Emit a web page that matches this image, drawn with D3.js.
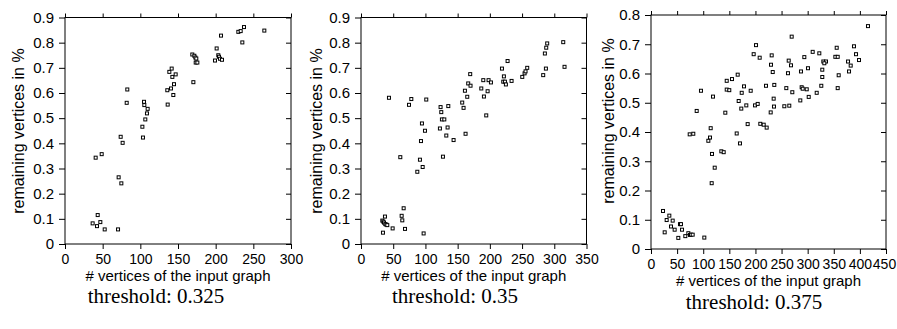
<!DOCTYPE html>
<html>
<head>
<meta charset="utf-8">
<script src="https://cdn.jsdelivr.net/npm/d3@7"></script>
<style>
  html, body { margin: 0; padding: 0; background: #fff; }
  svg { display: block; }
  .tick text { font-family: "Liberation Sans", Arial, sans-serif; fill: #000; }
  .xax .tick text { font-size: 14px; }
  .yax .tick text { font-size: 15px; }
</style>
</head>
<body>
<svg id="chart" width="897" height="329"></svg>
<script>
// threshold 0.325: [# vertices, remaining fraction]
const pts325 = [
  [36.7,0.082],[43.4,0.115],[42.5,0.071],[46.9,0.087],[52.7,0.058],[70.4,0.058],
  [40.7,0.343],[48.7,0.357],[71.2,0.265],[74.8,0.241],[73.9,0.426],[76.5,0.402],
  [81.9,0.561],[82.7,0.614],[102.7,0.466],[103.5,0.423],[104.9,0.565],[105.3,0.552],
  [106.6,0.495],[108.8,0.519],[109.7,0.537],[135.8,0.611],[136.3,0.554],[138.5,0.684],
  [140.7,0.618],[141.6,0.697],[142.5,0.664],[143.8,0.592],[144.7,0.635],[146.9,0.674],
  [169.0,0.753],[170.4,0.643],[171.7,0.748],[173.0,0.741],[174.3,0.737],[173.5,0.721],
  [175.7,0.721],[199.1,0.729],[201.3,0.777],[203.5,0.750],[204.4,0.744],[205.8,0.736],
  [208.4,0.732],[207.1,0.828],[230.1,0.843],[233.2,0.846],[235.4,0.801],[237.6,0.862],
  [264.6,0.848]
];

// threshold 0.35
const pts35 = [
  [34.1,0.045],[33.1,0.093],[34.6,0.089],[35.7,0.085],[37.2,0.109],[37.7,0.079],
  [39.3,0.077],[40.8,0.075],[49.1,0.062],[63.1,0.112],[64.1,0.094],[66.2,0.142],
  [68.3,0.060],[97.2,0.042],[43.4,0.581],[61.0,0.345],[74.5,0.553],[78.1,0.576],
  [101.3,0.574],[87.4,0.287],[91.5,0.335],[95.7,0.306],[93.1,0.409],[94.6,0.479],
  [99.3,0.450],[122.5,0.459],[123.5,0.544],[124.6,0.524],[125.6,0.495],[129.3,0.495],
  [127.2,0.347],[132.4,0.431],[134.4,0.463],[135.5,0.548],[143.7,0.413],[157.1,0.562],
  [159.2,0.541],[161.3,0.609],[164.9,0.585],[166.4,0.638],[169.5,0.675],[170.0,0.629],
  [162.3,0.438],[186.7,0.618],[189.8,0.651],[190.8,0.586],[194.4,0.511],[196.5,0.607],
  [198.0,0.651],[201.7,0.642],[218.8,0.697],[220.8,0.645],[221.8,0.666],[223.4,0.645],
  [224.9,0.634],[227.5,0.727],[233.7,0.648],[250.3,0.664],[253.9,0.678],[255.4,0.686],
  [258.0,0.700],[282.8,0.671],[285.4,0.757],[287.0,0.697],[287.5,0.780],[289.0,0.797],
  [313.9,0.802],[315.9,0.704]
];

// threshold 0.375
const pts375 = [
  [23.0,0.130],[26.2,0.057],[30.0,0.099],[35.1,0.114],[38.3,0.077],[41.5,0.097],
  [45.3,0.066],[52.3,0.038],[55.5,0.085],[57.4,0.085],[59.4,0.066],[65.7,0.044],
  [71.5,0.054],[74.7,0.048],[76.6,0.049],[79.8,0.049],[102.1,0.039],
  [74.1,0.392],[81.0,0.394],[114.3,0.413],[113.0,0.381],[109.8,0.370],[116.8,0.325],
  [122.0,0.278],[116.2,0.225],[134.7,0.334],[139.2,0.331],[164.1,0.395],[170.4,0.361],
  [185.1,0.427],[209.3,0.428],[215.8,0.425],[221.5,0.415],
  [415.5,0.762],[269.4,0.726],[201.1,0.697],[196.6,0.666],[208.1,0.654],[231.1,0.662],
  [229.8,0.630],[233.1,0.605],[263.7,0.644],[268.1,0.628],[262.3,0.601],[293.6,0.656],
  [309.6,0.674],[322.3,0.669],[300.6,0.618],[287.2,0.607],[330.0,0.641],[335.1,0.641],
  [331.9,0.635],[328.0,0.613],[328.0,0.588],[326.1,0.558],[353.0,0.657],[357.5,0.657],
  [355.6,0.688],[359.4,0.594],[357.5,0.550],[377.3,0.641],[382.4,0.627],[379.2,0.607],
  [388.7,0.693],[392.6,0.666],[398.3,0.646],[95.7,0.541],[118.7,0.521],[87.5,0.472],
  [145.0,0.575],[155.1,0.581],[166.0,0.596],[145.0,0.545],[149.9,0.543],[178.1,0.556],
  [173.7,0.534],[190.9,0.541],[167.9,0.506],[182.5,0.491],[172.9,0.480],[142.3,0.466],
  [199.2,0.491],[204.3,0.496],[220.2,0.558],[236.1,0.561],[234.9,0.514],[235.5,0.487],
  [229.2,0.467],[259.1,0.550],[270.6,0.536],[255.3,0.488],[264.8,0.490],[288.5,0.553],
  [290.5,0.548],[298.2,0.546],[317.3,0.534],[302.0,0.520],[285.9,0.508]
];

const titles = ['threshold: 0.325', 'threshold: 0.35', 'threshold: 0.375'];
const xMaxes = [300, 350, 450];
const yMaxes = [0.9, 0.9, 0.8];
const xTitle = '# vertices of the input graph';
const yTitle = 'remaining vertices in %';

const svg = d3.select('#chart');

const panels = [
  { data: pts325, box: { l: 65, r: 291, t: 17.5, b: 244 }, yLab: [18.5, 131], cap: [156, 303], xt: 281 },
  { data: pts35,  box: { l: 361, r: 586.5, t: 17.5, b: 244 }, yLab: [316, 131], cap: [455, 303], xt: 281 },
  { data: pts375, box: { l: 651, r: 886, t: 15, b: 249 }, yLab: [608, 121], cap: [754, 309], xt: 286 }
];

const fmtY = d => d === 0 ? '0' : d3.format('.1f')(d);

panels.forEach((p, i) => {
  const { l, r, t, b } = p.box;
  const x = d3.scaleLinear().domain([0, xMaxes[i]]).range([l, r]);
  const y = d3.scaleLinear().domain([0, yMaxes[i]]).range([b, t]);
  const xt = d3.range(0, xMaxes[i] + 1, 50);
  const yt = d3.range(0, Math.round(yMaxes[i] * 10) + 1).map(k => k / 10);

  const g = svg.append('g');

  // bottom axis with labels
  const bx = g.append('g')
    .attr('class', 'xax')
    .attr('transform', `translate(0,${b})`)
    .call(d3.axisBottom(x).tickValues(xt).tickSizeInner(5).tickSizeOuter(0).tickPadding(5));
  bx.select('.domain').remove();
  // last label of the widest panel nudged in so it stays on the page
  if (i === 2) bx.selectAll('.tick text').filter(d => d === xMaxes[i]).attr('dx', -2);

  // top axis, ticks only
  const tx = g.append('g')
    .attr('transform', `translate(0,${t})`)
    .call(d3.axisTop(x).tickValues(xt).tickSizeInner(4).tickSizeOuter(0).tickFormat(''));
  tx.select('.domain').remove();

  // left axis with labels
  const ly = g.append('g')
    .attr('class', 'yax')
    .attr('transform', `translate(${l},0)`)
    .call(d3.axisLeft(y).tickValues(yt).tickSizeInner(6).tickSizeOuter(0).tickPadding(5).tickFormat(fmtY));
  ly.select('.domain').remove();

  // right axis, inward ticks
  const ry = g.append('g')
    .attr('transform', `translate(${r},0)`)
    .call(d3.axisLeft(y).tickValues(yt).tickSizeInner(5).tickSizeOuter(0).tickFormat(''));
  ry.select('.domain').remove();

  g.selectAll('.tick line').attr('stroke', '#000').attr('stroke-width', 1);

  // frame
  g.append('rect')
    .attr('x', l).attr('y', t)
    .attr('width', r - l).attr('height', b - t)
    .attr('fill', 'none').attr('stroke', '#000').attr('stroke-width', 1);

  // points: small hollow squares
  g.append('g').selectAll('rect')
    .data(p.data)
    .enter()
    .append('rect')
    .attr('x', d => x(d[0]) - 1.5)
    .attr('y', d => y(d[1]) - 1.5)
    .attr('width', 3)
    .attr('height', 3)
    .attr('fill', '#fff')
    .attr('stroke', '#000')
    .attr('stroke-width', 1);

  // axis titles
  g.append('text')
    .attr('x', (l + r) / 2)
    .attr('y', p.xt)
    .attr('text-anchor', 'middle')
    .style('font-family', '"Liberation Sans", Arial, sans-serif')
    .style('font-size', '15px')
    .text(xTitle);

  g.append('text')
    .attr('transform', `translate(${p.yLab[0]},${p.yLab[1]}) rotate(-90)`)
    .attr('dy', '0.35em')
    .attr('text-anchor', 'middle')
    .style('font-family', '"Liberation Sans", Arial, sans-serif')
    .style('font-size', '16px')
    .text(yTitle);

  // caption under each panel
  g.append('text')
    .attr('x', p.cap[0])
    .attr('y', p.cap[1])
    .attr('text-anchor', 'middle')
    .style('font-family', '"Liberation Serif", "Times New Roman", serif')
    .style('font-size', '21px')
    .text(titles[i]);
});
</script>
</body>
</html>
